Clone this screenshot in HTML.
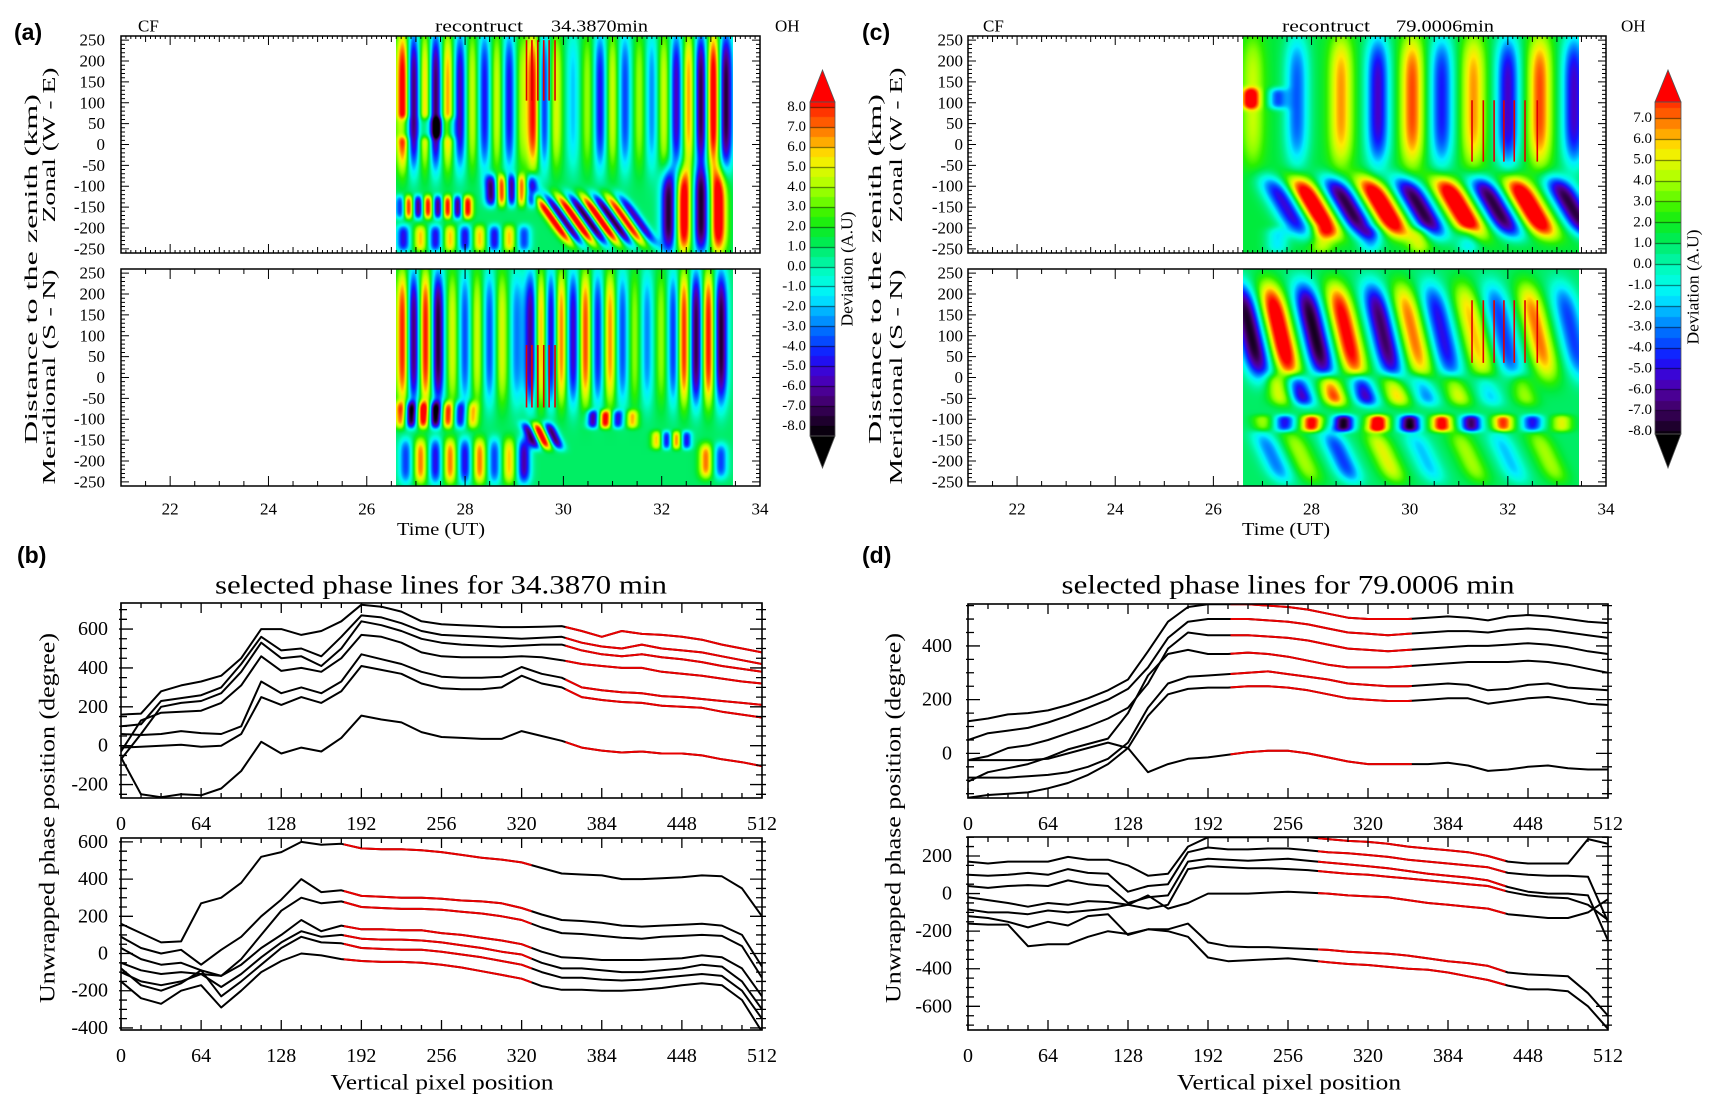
<!DOCTYPE html>
<html><head><meta charset="utf-8">
<style>
body{margin:0;background:#fff;width:1716px;height:1111px;overflow:hidden;position:relative;font-family:"Liberation Serif",serif}
canvas{position:absolute;display:block}
svg{position:absolute;left:0;top:0}
</style></head>
<body>
<canvas id="hmATop"></canvas>
<canvas id="hmABot"></canvas>
<canvas id="hmCTop"></canvas>
<canvas id="hmCBot"></canvas>
<canvas id="cbA"></canvas>
<canvas id="cbC"></canvas>
<svg id="fig" width="1716" height="1111"></svg>
<script>
// ---------- phase line data ----------
const PX=[0,16,32,48,64,80,96,112,128,144,160,176,192,208,224,240,256,272,288,304,320,336,352,368,384,400,416,432,448,464,480,496,512];
const bUp1=[160,165,280,310,330,360,450,600,600,570,590,640,725,715,690,640,625,620,615,610,610,612,615,590,560,590,575,570,560,545,520,500,480];
const bUp2=[100,110,230,245,260,300,420,560,490,500,460,560,670,660,630,590,570,565,560,555,550,555,560,530,510,500,520,500,490,480,460,440,420];
const bUp3=[-70,60,200,220,230,270,380,530,450,460,410,500,640,620,590,550,530,520,515,510,515,520,520,490,470,460,470,455,445,430,410,395,380];
const bUp4=[-30,130,170,175,180,220,310,460,385,400,380,450,570,560,530,480,460,455,455,455,460,455,440,420,410,400,400,380,370,360,345,330,320];
const bUp5=[60,55,60,75,65,60,100,330,270,300,270,330,470,445,420,380,355,350,350,355,405,370,350,300,285,275,270,255,250,240,230,220,210];
const bUp6=[-10,-5,0,5,-5,0,60,250,210,250,220,280,410,390,370,320,295,290,290,300,360,320,300,250,235,225,220,205,200,195,175,160,145];
const bUp7=[-60,-250,-265,-250,-255,-220,-130,20,-40,-10,-30,40,155,135,120,70,45,40,35,35,75,50,25,-10,-25,-35,-30,-40,-40,-50,-70,-85,-105];
const bUpRed=[355,512];
const bLo1=[160,110,60,65,270,300,380,520,545,600,585,590,565,560,560,555,545,530,515,505,490,460,430,425,420,400,400,405,410,420,415,350,200];
const bLo2=[90,30,0,20,-60,20,90,200,290,400,330,340,310,305,300,300,295,285,280,270,245,210,180,175,165,150,145,150,155,160,150,100,-70];
const bLo3=[30,-30,-60,-50,-90,-120,-30,100,230,300,270,280,250,245,240,240,235,225,215,200,180,140,110,105,95,85,80,90,95,100,95,40,-130];
const bLo4=[-50,-90,-110,-100,-110,-120,-60,30,100,180,120,150,130,130,125,125,110,100,85,70,50,10,-20,-25,-35,-35,-35,-30,-25,-10,-20,-80,-230];
const bLo5=[-100,-150,-170,-150,-110,-180,-110,-20,60,120,90,100,80,75,75,70,60,45,30,10,-5,-50,-80,-80,-90,-100,-100,-90,-80,-60,-70,-150,-300];
const bLo6=[-80,-170,-200,-160,-90,-230,-150,-60,30,90,60,55,30,25,20,20,10,-5,-20,-40,-60,-100,-130,-130,-140,-145,-140,-130,-120,-110,-120,-200,-350];
const bLo7=[-150,-240,-270,-200,-170,-290,-200,-100,-40,0,-10,-30,-40,-45,-45,-50,-60,-75,-95,-115,-135,-175,-195,-195,-200,-200,-195,-185,-170,-160,-170,-250,-420];
const bLoRed=[178,328];
const dUp1=[120,130,145,150,160,180,205,235,275,380,490,545,555,555,555,550,545,535,520,505,500,500,500,505,510,505,495,510,515,510,500,490,485];
const dUp2=[50,75,85,95,115,140,170,200,240,320,430,490,500,500,500,495,490,480,465,450,445,440,445,450,455,455,450,460,465,460,450,440,430];
const dUp3=[-25,-10,20,30,50,75,100,130,170,260,390,450,440,440,440,435,430,420,405,390,385,380,385,390,395,400,400,405,410,405,395,380,370];
const dUp4=[-105,-70,-55,-40,-15,15,35,55,150,290,370,385,370,370,375,370,360,345,330,320,320,320,325,330,335,340,340,340,345,340,330,315,300];
const dUp5=[-90,-90,-90,-85,-80,-70,-50,-20,40,170,260,285,290,295,300,305,295,285,275,260,255,250,250,255,260,255,235,240,255,260,245,240,235];
const dUp6=[-165,-155,-150,-145,-130,-110,-80,-40,20,140,220,240,245,245,250,250,245,235,220,205,200,195,195,200,205,205,185,195,205,210,200,185,180];
const dUp7=[-25,-25,-25,-25,-20,0,20,40,20,-70,-40,-20,-15,-5,5,10,10,0,-15,-30,-40,-40,-40,-40,-35,-45,-65,-60,-50,-45,-55,-60,-60];
const dUpRed=[210,355];
const dLo1=[170,160,170,170,170,195,180,180,150,95,105,250,300,300,300,300,300,300,290,280,275,265,250,240,230,220,200,170,160,160,160,290,265];
const dLo2=[100,95,100,110,100,130,110,105,10,40,50,220,245,235,235,240,240,230,220,215,205,195,180,170,160,150,140,110,100,95,95,90,-150];
const dLo3=[40,30,40,45,40,70,50,40,-50,-20,-10,170,185,180,175,180,185,175,165,155,145,135,120,105,95,85,70,35,10,0,0,-10,-250];
const dLo4=[-85,-100,-100,-110,-90,-100,-90,-80,-60,-80,-60,130,145,140,135,135,130,125,115,105,100,90,80,70,60,50,40,10,-10,-20,-25,-60,-140];
const dLo5=[-20,-35,-50,-70,-50,-60,-40,-45,-60,-10,-80,-50,0,0,0,5,10,5,0,-10,-15,-20,-35,-50,-60,-70,-80,-110,-120,-130,-130,-100,-30];
const dLo6=[-120,-130,-150,-180,-150,-170,-120,-110,-220,-190,-190,-160,-260,-280,-285,-285,-290,-295,-300,-310,-315,-320,-330,-345,-360,-370,-385,-420,-430,-435,-440,-530,-650];
const dLo7=[-160,-165,-165,-280,-270,-270,-230,-200,-215,-190,-200,-230,-340,-360,-355,-350,-345,-355,-365,-375,-380,-390,-400,-405,-420,-440,-460,-490,-510,-510,-520,-600,-720];
const dLoRed=[280,430];
const xTickLabels=["0","64","128","192","256","320","384","448","512"];
const timeTickLabels=["22","24","26","28","30","32","34"];
const kmTickLabels=["250","200","150","100","50","0","-50","-100","-150","-200","-250"];
const cbALabels=["8.0","7.0","6.0","5.0","4.0","3.0","2.0","1.0","0.0","-1.0","-2.0","-3.0","-4.0","-5.0","-6.0","-7.0","-8.0"];
const cbCLabels=["7.0","6.0","5.0","4.0","3.0","2.0","1.0","0.0","-1.0","-2.0","-3.0","-4.0","-5.0","-6.0","-7.0","-8.0"];

// ---------- heatmap wave-packet data (time UT, km, deviation) ----------
const aTopYc=[105,-150,-110,-180,-160,-225,40];
const aTopYh=[165,28,38,60,100,32,25];
const aTopWt=[0.1,0.08,0.1,0.095,0.12,0.1,0.08];
const aTopTilt=[0,0,0,-0.006,0,0,0];
const aTopT=[[26.75,26.95,27.2,27.4,27.65,27.9,28.15,28.4,28.65,28.9,29.15,29.4,29.6,29.85,30.2,30.5,30.75,31.0,31.25,31.55,31.8,32.05,32.3,32.55,32.8,33.05,33.3],[26.7,26.85,27.05,27.25,27.45,27.65,27.85,28.05],[28.55,28.75,28.95,29.15,29.35],[29.8,30.0,30.25,30.5,30.75,31.0,31.25,31.5],[32.15,32.45,32.8,33.15],[26.75,27.1,27.4,27.7,28.0,28.3,28.6,28.9,29.2],[26.75,27.2,27.45,27.7]];
const aTopV=[[9,-9,6,-9,6,-7,4,-6,4,-6,3,8,-6,4,-3,3,-6,4,-5,3,-4,4,-7,6,-9,9,-9],[-6,8,-8,8,-8,8,-8,8],[-9,9,-9,8,-8],[9,-9,9,-9,9,-9,8,-7],[-9,9,-9,9],[-6,5,-6,5,-6,5,-6,5,-5],[-5,-5,-5,-4]];
const aBotYc=[95,-90,-200,-100,-150,-140,-200];
const aBotYh=[160,32,55,22,22,32,42];
const aBotWt=[0.1,0.09,0.1,0.09,0.08,0.09,0.1];
const aBotTilt=[0,0,0,0,0,-0.004,0];
const aBotT=[[26.75,26.95,27.2,27.45,27.75,28.0,28.25,28.5,28.75,29.05,29.35,29.55,29.75,29.95,30.2,30.45,30.7,30.95,31.2,31.45,31.7,32.0,32.25,32.45,32.7,32.95,33.2],[26.7,26.9,27.15,27.4,27.65,27.9,28.15],[26.8,27.1,27.4,27.7,28.0,28.3,28.6,28.9,29.2],[30.6,30.85,31.1,31.4],[31.9,32.1,32.3,32.5],[29.35,29.55,29.8],[32.9,33.2]];
const aBotV=[[8,-9,8,-9,4,-5,4,-5,4,-4,-8,7,-8,7,-7,7,-6,6,-5,3,-4,3,-6,8,-9,8,-9],[6,-9,8,-9,7,-6,5],[-5,6,-6,6,-6,6,-5,5,-7],[-7,8,-6,5],[5,-6,6,-6],[-8,9,-8],[6,-5]];
const cTopYc=[105,110,-150,-230];
const cTopYh=[155,25,72,30];
const cTopWt=[0.17,0.13,0.22,0.16];
const cTopTilt=[0,0,-0.005,0];
const cTopT=[[26.8,27.7,28.6,29.35,30.05,30.65,31.3,32.0,32.65,33.35],[26.75,27.3],[27.5,28.05,28.75,29.45,30.2,31.0,31.75,32.45,33.3],[27.3,28.2,29.2,30.2,31.2]];
const cTopV=[[3,-5,5,-7,6,-6,5,-7,6,-7],[6,-5],[-7,9,-9,9,-9,9,-9,9,-9],[-3,3,-3,3,-3]];
const cBotYc=[110,-30,-110,-190];
const cBotYh=[115,38,20,62];
const cBotWt=[0.19,0.17,0.15,0.18];
const cBotTilt=[-0.002,-0.003,0,-0.004];
const cBotT=[[26.75,27.35,28.05,28.7,29.45,30.05,30.65,31.3,31.9,32.6,33.3],[27.3,27.75,28.4,29.05,29.7,30.3,30.95,31.6,32.3],[27.0,27.45,28.0,28.65,29.35,30.0,30.65,31.25,31.9,32.5,33.1],[27.2,27.8,28.6,29.5,30.3,31.2,32.0,32.8]];
const cBotV=[[-9,9,-9,8,-8,6,-6,5,-5,6,-5],[4,-7,7,-7,5,-4,4,-3,3],[3,-6,8,-9,9,-9,8,-8,7,-6,4],[-4,3,-5,4,-3,3,-3,3]];
const aTopMarkT=[29.25,29.36,29.48,29.6,29.71,29.83];
const aTopMarkY=[250,105];
const aBotMarkY=[78,-72];
const cMarkT=[31.27,31.5,31.72,31.92,32.13,32.35,32.6];
const cTopMarkY=[106,-41];
const cBotMarkY=[185,35];

// ---------- colormap ----------
const CMV=[-8.5,-7.5,-6.5,-5.5,-4.5,-3.5,-2.5,-1.5,-0.5,0.5,1.5,2.5,3.5,4.5,5.5,6.5,7.5,8.5];
const CMC=[[0,0,0],[40,0,60],[75,0,130],[70,0,200],[20,20,255],[0,90,255],[0,160,255],[0,240,255],[0,255,210],[0,240,140],[0,235,60],[40,240,0],[130,255,0],[200,255,0],[255,235,0],[255,150,0],[255,70,0],[255,0,0]];
function cmap(v){
  if(v<=CMV[0])return CMC[0];
  if(v>=CMV[CMV.length-1])return CMC[CMC.length-1];
  for(let i=0;i<CMV.length-1;i++){
    if(v<=CMV[i+1]){const f=(v-CMV[i])/(CMV[i+1]-CMV[i]);const a=CMC[i],b=CMC[i+1];
      return [a[0]+(b[0]-a[0])*f,a[1]+(b[1]-a[1])*f,a[2]+(b[2]-a[2])*f];}
  }
  return CMC[CMC.length-1];
}

const NS='http://www.w3.org/2000/svg';
const svg=document.getElementById('fig');
function mk(tag,attrs,name,parent){
  const el=document.createElementNS(NS,tag);
  for(const k in attrs)el.setAttribute(k,attrs[k]);
  
  
  (parent||svg).appendChild(el);
  return el;
}
function txt(x,y,s,name,opt){
  opt=opt||{};
  const a={x:x,y:y,'font-family':opt.ff||'"Liberation Serif",serif','font-size':opt.fs||17,fill:'#000','text-anchor':opt.anchor||'middle','dominant-baseline':'central'};
  if(opt.tl){a.textLength=opt.tl;a.lengthAdjust='spacingAndGlyphs';}
  if(opt.rot)a.transform='rotate(-90 '+x+' '+y+')';
  if(opt.fw)a['font-weight']=opt.fw;
  const t=mk('text',a,name);
  t.textContent=s;
  return t;
}

// ---------- heatmap panels ----------
function renderHeat(id,L,R,top,bot,Yc,Yh,Wt,Tilt,T,V,base){
  const tx=t=>L+(t-21)/13*(R-L);
  const x0=Math.round(tx(26.6)),x1=Math.round(tx(33.45));
  const cv=document.getElementById(id);
  const w=x1-x0,h=bot-top;
  cv.width=w;cv.height=h;cv.style.left=x0+'px';cv.style.top=top+'px';
  const ctx=cv.getContext('2d');const img=ctx.createImageData(w,h);
  for(let py=0;py<h;py++){
    const y=260-(py+0.5)/h*520;
    const yw=Yc.map((c,s)=>Math.exp(-Math.pow((y-c)/Yh[s],4)));
    for(let px=0;px<w;px++){
      const t=26.6+(px+0.5)/w*(33.45-26.6);
      let v=base;
      for(let s=0;s<Yc.length;s++){
        if(yw[s]<1e-3)continue;
        const ts=T[s],vs=V[s];
        for(let k=0;k<ts.length;k++){
          const d=(t-ts[k]-Tilt[s]*(y-Yc[s]))/Wt[s];
          if(d>-4&&d<4)v+=vs[k]*Math.exp(-0.5*d*d)*yw[s];
        }
      }
      const c=cmap(v);const i=(py*w+px)*4;
      img.data[i]=c[0];img.data[i+1]=c[1];img.data[i+2]=c[2];img.data[i+3]=255;
    }
  }
  ctx.putImageData(img,0,0);
}

function heatAxes(L,R,top,bot,dense,name,labelRight,marksT,marksY){
  const tx=t=>L+(t-21)/13*(R-L);
  const ky=y=>top+(260-y)/520*(bot-top);
  mk('rect',{x:L,y:top,width:R-L,height:bot-top,fill:'none',stroke:'#000','stroke-width':1.5},name+'-frame');
  let d='';
  for(let y=-250;y<=250;y+=10){const len=(y%50===0)?8:4;const yy=ky(y);
    d+='M'+L+' '+yy+'h'+len+'M'+R+' '+yy+'h'+(-len);}
  for(let i=0;i<=130;i++){const t=21+i*0.1;const xx=tx(t);
    let len;
    if(dense){len=(i%20===10)?9:((i%5===0)?6:3);}
    else{if(i%5!==0)continue;len=(i%20===10)?10:5;}
    d+='M'+xx+' '+top+'v'+len+'M'+xx+' '+bot+'v'+(-len);}
  mk('path',{d:d,stroke:'#000','stroke-width':1,fill:'none'},name+'-ticks');
  kmTickLabels.forEach((s,i)=>{txt(labelRight,ky(250-i*50),s,name+'-y-tick-label',{anchor:'end',fs:17});});
  let md='';
  marksT.forEach(t=>{md+='M'+tx(t)+' '+ky(marksY[0])+'V'+ky(marksY[1]);});
  mk('path',{d:md,stroke:'#e00000','stroke-width':1.6,fill:'none'},name+'-selected-phase-marks');
}

function colorbar(id,x,top,w,h,vTop,vBot,labels,lab0,dy,labX,tipTop,tipBot){
  const cv=document.getElementById(id);cv.width=w;cv.height=h;cv.style.left=x+'px';cv.style.top=top+'px';
  const ctx=cv.getContext('2d');
  for(let r=0;r<h;r++){const v=vTop-(r+0.5)/h*(vTop-vBot);const q=Math.floor(v*2)/2+0.25;const c=cmap(q);
    ctx.fillStyle='rgb('+c.map(Math.round).join(',')+')';ctx.fillRect(0,r,w,1);}
  ctx.fillStyle='rgba(0,0,0,0.6)';
  labels.forEach((s,i)=>{const yy=Math.round(lab0+i*dy-top);ctx.fillRect(0,yy,w,1);});
  mk('polygon',{points:x+','+top+' '+(x+w)+','+top+' '+(x+w/2)+','+tipTop,fill:'#ff0000',stroke:'#555','stroke-width':0.8},id+'-max-triangle');
  mk('polygon',{points:x+','+(top+h)+' '+(x+w)+','+(top+h)+' '+(x+w/2)+','+tipBot,fill:'#000',stroke:'#555','stroke-width':0.8},id+'-min-triangle');
  mk('rect',{x:x,y:top,width:w,height:h,fill:'none',stroke:'#555','stroke-width':0.8},id+'-frame');
  labels.forEach((s,i)=>{txt(labX,lab0+i*dy,s,id+'-tick-label',{anchor:'end',fs:15});});
}

renderHeat('hmATop',121,760,36,253,aTopYc,aTopYh,aTopWt,aTopTilt,aTopT,aTopV,1);
renderHeat('hmABot',121,760,269,486,aBotYc,aBotYh,aBotWt,aBotTilt,aBotT,aBotV,1);
renderHeat('hmCTop',968,1606,36,253,cTopYc,cTopYh,cTopWt,cTopTilt,cTopT,cTopV,1.5);
renderHeat('hmCBot',968,1606,269,486,cBotYc,cBotYh,cBotWt,cBotTilt,cBotT,cBotV,1);
heatAxes(121,760,36,253,true,'a-zonal',105,aTopMarkT,aTopMarkY);
heatAxes(121,760,269,486,false,'a-meridional',105,aTopMarkT,aBotMarkY);
heatAxes(968,1606,36,253,true,'c-zonal',963,cMarkT,cTopMarkY);
heatAxes(968,1606,269,486,false,'c-meridional',963,cMarkT,cBotMarkY);
[[121,760],[968,1606]].forEach((p,j)=>{
  const tx=t=>p[0]+(t-21)/13*(p[1]-p[0]);
  timeTickLabels.forEach((s,i)=>{txt(tx(22+i*2),509,s,'time-tick-label',{fs:17});});
});
colorbar('cbA',810,102,25,334,8.25,-8.5,cbALabels,107,19.94,806,70,468);
colorbar('cbC',1655,102,26,332,7.77,-8.1,cbCLabels,118,20.87,1652,70,468);

// header texts
txt(14,32,'(a)','panel-label-a',{anchor:'start',fs:23,fw:'bold',ff:'"Liberation Sans",sans-serif'});
txt(862,32,'(c)','panel-label-c',{anchor:'start',fs:23,fw:'bold',ff:'"Liberation Sans",sans-serif'});
txt(17,555,'(b)','panel-label-b',{anchor:'start',fs:23,fw:'bold',ff:'"Liberation Sans",sans-serif'});
txt(862,555,'(d)','panel-label-d',{anchor:'start',fs:23,fw:'bold',ff:'"Liberation Sans",sans-serif'});
txt(138,26,'CF','cf-label-a',{anchor:'start',fs:17});
txt(435,26,'recontruct','reconstruct-label-a',{anchor:'start',fs:17,tl:88});
txt(551,26,'34.3870min','time-label-a',{anchor:'start',fs:17,tl:97});
txt(775,26,'OH','oh-label-a',{anchor:'start',fs:17});
txt(983,26,'CF','cf-label-c',{anchor:'start',fs:17});
txt(1282,26,'recontruct','reconstruct-label-c',{anchor:'start',fs:17,tl:88});
txt(1396,26,'79.0006min','time-label-c',{anchor:'start',fs:17,tl:98});
txt(1621,26,'OH','oh-label-c',{anchor:'start',fs:17});
txt(441,529,'Time (UT)','x-axis-title-a',{fs:18,tl:88});
txt(1286,529,'Time (UT)','x-axis-title-c',{fs:18,tl:88});
txt(31,269,'Distance to the zenith (km)','y-axis-title-a',{fs:18,rot:true,tl:350});
txt(49,145,'Zonal (W - E)','zonal-label-a',{fs:18,rot:true,tl:155});
txt(49,377,'Meridional (S - N)','meridional-label-a',{fs:18,rot:true,tl:215});
txt(875,269,'Distance to the zenith (km)','y-axis-title-c',{fs:18,rot:true,tl:350});
txt(896,145,'Zonal (W - E)','zonal-label-c',{fs:18,rot:true,tl:155});
txt(896,377,'Meridional (S - N)','meridional-label-c',{fs:18,rot:true,tl:215});
txt(847,269,'Deviation (A.U)','colorbar-title-a',{fs:17,rot:true,tl:115});
txt(1693,287,'Deviation (A.U)','colorbar-title-c',{fs:17,rot:true,tl:115});

// ---------- phase panels ----------
function phasePanel(name,L,R,top,bot,vTop,vBot,lines,red,yLabels,yLabelX,xLabY){
  const sx=x=>L+x/512*(R-L);
  const sy=v=>top+(vTop-v)/(vTop-vBot)*(bot-top);
  const cid='clip-'+name;
  const cp=mk('clipPath',{id:cid},name+'-clip');
  mk('rect',{x:L,y:top,width:R-L,height:bot-top},name+'-clip-rect',cp);
  const g=mk('g',{'clip-path':'url(#'+cid+')'},name+'-lines');
  lines.forEach((ys,li)=>{
    const pts=PX.map((x,i)=>sx(x).toFixed(1)+','+sy(ys[i]).toFixed(1)).join(' ');
    mk('polyline',{points:pts,fill:'none',stroke:'#000','stroke-width':2,'stroke-linejoin':'round'},name+'-phase-line-'+(li+1),g);
    const rp=[];
    const interp=x=>{for(let i=0;i<PX.length-1;i++){if(x<=PX[i+1]){const f=(x-PX[i])/(PX[i+1]-PX[i]);return ys[i]+(ys[i+1]-ys[i])*f;}}return ys[ys.length-1];};
    rp.push([red[0],interp(red[0])]);
    PX.forEach((x,i)=>{if(x>red[0]&&x<red[1])rp.push([x,ys[i]]);});
    rp.push([red[1],interp(red[1])]);
    mk('polyline',{points:rp.map(p=>sx(p[0]).toFixed(1)+','+sy(p[1]).toFixed(1)).join(' '),fill:'none',stroke:'#e80000','stroke-width':2,'stroke-linejoin':'round'},name+'-selected-segment-'+(li+1),g);
  });
  mk('rect',{x:L,y:top,width:R-L,height:bot-top,fill:'none',stroke:'#000','stroke-width':1.6},name+'-frame');
  let d='';
  for(let x=0;x<=512;x+=16){const len=(x%64===0)?10:5;d+='M'+sx(x)+' '+top+'v'+len+'M'+sx(x)+' '+bot+'v'+(-len);}
  const vmin=Math.ceil(vBot/50)*50;
  for(let v=vmin;v<=vTop;v+=50){const len=(v%200===0)?12:6;const yy=sy(v);d+='M'+(L-2)+' '+yy+'h'+(len+2)+'M'+(R+4)+' '+yy+'h'+(-len-4);}
  mk('path',{d:d,stroke:'#000','stroke-width':1.3,fill:'none'},name+'-ticks');
  yLabels.forEach(s=>{txt(yLabelX,sy(parseFloat(s)),s,name+'-y-tick-label',{anchor:'end',fs:20});});
  xTickLabels.forEach((s,i)=>{txt(sx(i*64),xLabY,s,name+'-x-tick-label',{fs:20});});
}
phasePanel('b-upper',121,762,603,798,734,-269,[bUp1,bUp2,bUp3,bUp4,bUp5,bUp6,bUp7],bUpRed,["600","400","200","0","-200"],108,824);
phasePanel('b-lower',121,762,838,1030,621,-411,[bLo1,bLo2,bLo3,bLo4,bLo5,bLo6,bLo7],bLoRed,["600","400","200","0","-200","-400"],108,1056);
phasePanel('d-upper',968,1608,604,798,556,-166,[dUp1,dUp2,dUp3,dUp4,dUp5,dUp6,dUp7],dUpRed,["400","200","0"],952,824);
phasePanel('d-lower',968,1608,837,1030,301,-726,[dLo1,dLo2,dLo3,dLo4,dLo5,dLo6,dLo7],dLoRed,["200","0","-200","-400","-600"],952,1056);
txt(441,585,'selected phase lines for 34.3870 min','title-b',{fs:26,tl:452});
txt(1288,585,'selected phase lines for 79.0006 min','title-d',{fs:26,tl:453});
txt(442,1082,'Vertical pixel position','x-axis-title-b',{fs:22,tl:223});
txt(1289,1082,'Vertical pixel position','x-axis-title-d',{fs:22,tl:224});
txt(47,818,'Unwrapped phase position (degree)','y-axis-title-b',{fs:22,rot:true,tl:370});
txt(893,818,'Unwrapped phase position (degree)','y-axis-title-d',{fs:22,rot:true,tl:370});
</script>
</body></html>
